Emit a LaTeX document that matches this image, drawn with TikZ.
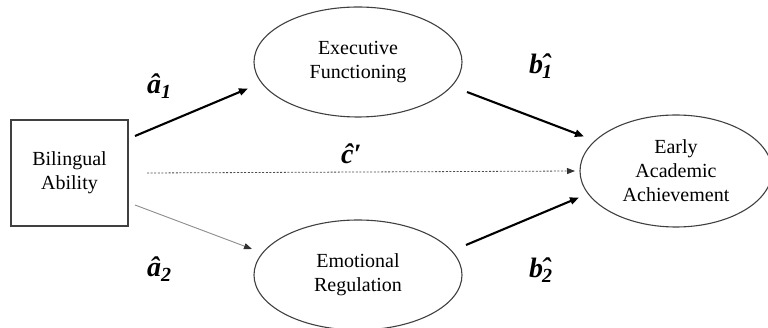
\documentclass[tikz,border=0pt]{standalone}
\usepackage{fontspec}
\setmainfont{Liberation Serif}
\usetikzlibrary{shapes.geometric,arrows.meta}

\tikzset{
  boxtext/.style={font=\fontsize{20}{24}\selectfont, align=center, inner sep=0pt},
  varbox/.style={boxtext, draw=black!75, line width=1.2pt, rectangle,
                 minimum width=117pt, minimum height=106pt},
  varoval/.style={boxtext, draw=black!75, line width=1.1pt, ellipse},
  coef/.style={font=\fontsize{28}{28}\selectfont\bfseries\itshape, inner sep=0pt, anchor=base west},
  pathline/.style={line width=2.1pt, black, -{Triangle[length=9pt,width=7pt]}},
  weakline/.style={line width=0.9pt, black!45, -{Triangle[length=8pt,width=6pt,color=black!80]}},
  directline/.style={line width=0.8pt, black!70, dash pattern=on 2pt off 1.6pt,
                     -{Triangle[length=8pt,width=6pt,color=black!80]}}
}
% lowered subscript digit
\newcommand{\subdig}[1]{\raisebox{-5pt}{\fontsize{20}{20}\selectfont #1}}
% circumflex set over a lowered subscript digit
\newcommand{\hatsub}[1]{\kern-1pt\rlap{\raisebox{-5pt}{\fontsize{20}{20}\selectfont #1}}\raisebox{0pt}{\kern-1pt ˆ}}

\begin{document}
\begin{tikzpicture}[x=1pt,y=-1pt]
  \useasboundingbox (0,0) rectangle (768,328);

  % variables
  \node[varbox] (bil) at (69.5,173) {Bilingual\\Ability};
  \node[varoval, minimum width=208pt, minimum height=110pt] (ef) at (358,62) {Executive\\Functioning};
  \node[varoval, minimum width=208pt, minimum height=110pt] (er) at (358,275) {Emotional\\Regulation};
  \node[varoval, minimum width=192pt, minimum height=112pt] (eaa) at (676,171) {Early\\Academic\\Achievement};

  % arrow end points
  \coordinate (a1s) at (135,136);  \coordinate (a1e) at (248,88.5);
  \coordinate (a2s) at (135,205);  \coordinate (a2e) at (252,249);
  \coordinate (cs)  at (147,173);  \coordinate (ce)  at (575,171);
  \coordinate (b1s) at (467,92);   \coordinate (b1e) at (584,136.5);
  \coordinate (b2s) at (466,245);  \coordinate (b2e) at (579,197.5);

  % paths
  \draw[pathline] (a1s) -- (a1e);
  \draw[weakline] (a2s) -- (a2e);
  \draw[directline] (cs) -- (ce);
  \draw[pathline] (b1s) -- (b1e);
  \draw[pathline] (b2s) -- (b2e);

  % coefficients
  \node[coef] (la1) at (147,94) {â\subdig{1}};
  \node[coef] (la2) at (147,277) {â\subdig{2}};
  \node[coef] (lc)  at (341,164) {ĉ′};
  \node[coef] (lb1) at (529,74) {b\hatsub{1}\kern10pt};
  \node[coef] (lb2) at (529,278) {b\hatsub{2}\kern10pt};
\end{tikzpicture}
\end{document}
